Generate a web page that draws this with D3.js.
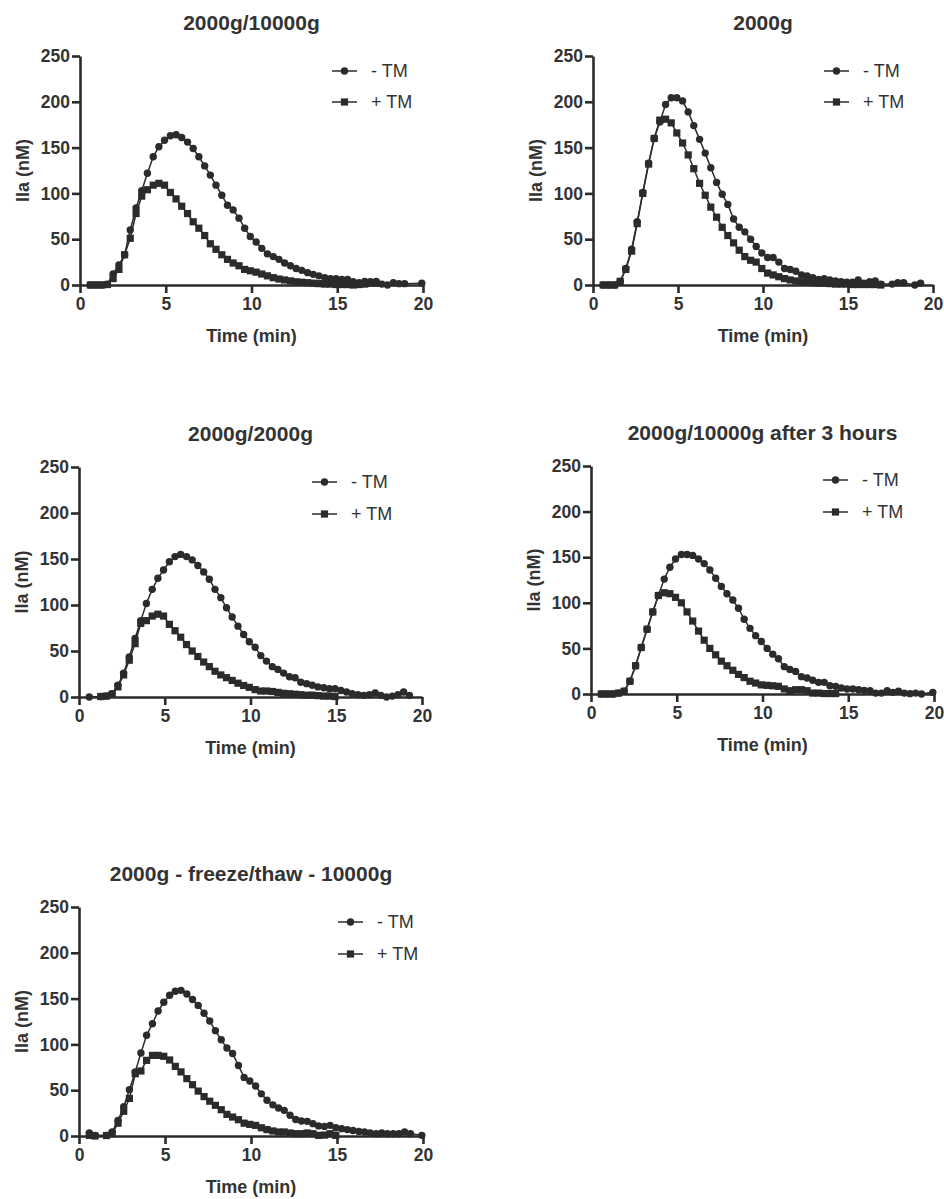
<!DOCTYPE html>
<html>
<head>
<meta charset="utf-8">
<script src="https://cdn.jsdelivr.net/npm/d3@7"></script>
<style>
  html, body { margin: 0; padding: 0; background: #ffffff; }
  svg { display: block; }
  text { font-family: "Liberation Sans", Arial, Helvetica, sans-serif; fill: #333333; }
</style>
</head>
<body>
<svg id="chart" width="944" height="1199"></svg>
<script>
// ---------------- DATA ----------------
const times = [0.6, 0.93, 1.27, 1.6, 1.93, 2.27, 2.6, 2.93, 3.27, 3.6,
  3.93, 4.27, 4.6, 4.93, 5.27, 5.6, 5.93, 6.27, 6.6, 6.93,
  7.27, 7.6, 7.93, 8.27, 8.6, 8.93, 9.27, 9.6, 9.93, 10.27,
  10.6, 10.93, 11.27, 11.6, 11.93, 12.27, 12.6, 12.93, 13.27, 13.6,
  13.93, 14.27, 14.6, 14.93, 15.27, 15.6, 15.93, 16.27, 16.6, 16.93,
  17.27, 17.6, 17.93, 18.27, 18.6, 18.93, 19.27, 19.6, 19.93];

const titles = ["2000g/10000g", "2000g", "2000g/2000g", "2000g/10000g after 3 hours", "2000g - freeze/thaw - 10000g"];
const seriesNames = ["- TM", "+ TM"];
const xTicks = [0, 5, 10, 15, 20];
const yTicks = [0, 50, 100, 150, 200, 250];
const xLabel = "Time (min)";
const yLabel = "IIa (nM)";

// Panel 1: 2000g/10000g
const p1Minus = [0,0,0,1,12,22,33,60,84,103,
  122,140,151,158,163,164,161,156,149,140,
  130,120,109,98,87,82,73,62,53,47,
  40,34,31,28,24,21,18,16,13.5,11.6,
  10,8,7,7,6,6,3.5,2.5,4,3.5,
  4,1,0,2.5,1.5,1.5,null,null,2];
const p1Plus = [0,0,0,0.5,7,17,33,51,78,97,
  104,109,111,109,101,94,86,78,69,62,
  54,45,39,33,28,24,21,17,15.5,14,
  12,10,8,6.5,5.5,4.5,3.5,3,2.5,2,
  1.5,1,1,0.5,0.5,0.5,0,0.5,1,2,
  2,null,null,null,null,null,null,null,null];

// Panel 2: 2000g
const p2Minus = [0,0,0,4,18,39,69,101,133,160,
  178,197,204.5,204.5,201,189,174,159,144,128,
  112,99,88,72,63,58,50,42,35,30,
  30,25,18,17,15,11,10,8,6,7,
  5.5,4.4,3.6,3,3,5.5,2,3.6,4.4,1,
  null,1,2.5,2.5,null,0,2,null,null];
const p2Plus = [0,0,0,4,17,37,67,100,132,160,
  180,181,177,166,155,142,127,111,98,85,
  74,63,54,46,38,31,27,25,18,13,
  11,9,7,5.5,4.4,3.5,3,2.5,2,2,
  1.5,1,1,1,0.5,0.5,0.5,0.5,0.5,0,
  null,null,null,null,null,null,null,null,null];

// Panel 3: 2000g/2000g
const p3Minus = [0,null,0.5,1,3.6,12.7,26,43.6,63.6,83,
  101.7,117,129,138,147,152.6,155,152.6,149,143,
  136,128,117,108,97,87,77,68,60,54,
  45,39,33,30,26,22,21,16,14.5,12.7,
  11,10,9,9,7,5.5,3.6,2.5,1.8,2.5,
  4.4,1.8,0,1,2.5,5.5,1.8,null,null];
const p3Plus = [null,null,0.5,1,3,11,24,40,58,80,
  83,88,90,88,79,72,65,57,50,44,
  38,33,28,24,21,18,15,12.5,10.5,8,
  6.5,6.5,6,5,4,3.5,3,2.5,2,2,
  1.5,1,1,0.5,null,null,null,null,null,null,
  null,null,null,null,null,null,null,null,null];

// Panel 4: 2000g/10000g after 3 hours
const p4Minus = [0,0,0,1,3,14,31,51,71,90,
  108,126,139,148,153,153,152,148,143,136,
  127,118,110,103,94,82,72,64,57.6,50,
  43.7,38.6,30,27,24.8,19,17.5,15,12.8,12.8,
  9,8.4,6.6,5.5,5.5,4.7,4,3.6,1,1,
  3.6,1.8,3,1,0.4,1,0,null,1.8];
const p4Plus = [0,0,0,1,3,14,31,51,71,90,
  108,111,110,106,100,90,80,69,59,50,
  43,36,31,26,21.5,18,14,12,10,9.5,
  9,8.4,5.5,3.6,4.7,4.7,3.6,1,1,0.5,
  0.5,0.5,null,null,null,null,null,null,null,null,
  null,null,null,null,null,null,null,null,null];

// Panel 5: 2000g - freeze/thaw - 10000g
const p5Minus = [3.3,0.7,null,0.7,4.4,17,32,50.6,70,90.6,
  110,122.6,136.5,146,153.6,158,159,155,149,142.6,
  134,125.5,115,105,96,90,77,64,60,54.6,
  46,39,34,30.6,28,22.6,18,16.4,16,13.5,
  11,10.5,11.6,9,8,7,6,5,4.4,3.3,
  2.5,3.3,2.5,2.5,2.5,4.4,2.5,null,0.7];
const p5Plus = [0.7,0,null,0.5,2.5,14,27,41,68,71,
  82.6,88,88,87,83,76,70,62.6,56,49,
  43,38,33.5,28.7,23.6,20.7,17.8,14,12.7,11.6,
  9,7,5.5,4.4,4.4,3.3,2.5,2.5,3.3,2.5,
  0.7,1,2.5,0.7,null,null,null,null,null,null,
  null,null,null,null,null,null,null,null,null];

const minusSeries = [p1Minus, p2Minus, p3Minus, p4Minus, p5Minus];
const plusSeries = [p1Plus, p2Plus, p3Plus, p4Plus, p5Plus];

// ---------------- LAYOUT (pixel positions) ----------------
const layout = [
  {x0: 80,  x1: 423, y0: 285,  y1: 56,  legX: 332, legY: [71, 102]},
  {x0: 593, x1: 933, y0: 285,  y1: 56,  legX: 824, legY: [71, 102]},
  {x0: 79,  x1: 422, y0: 697,  y1: 467, legX: 312, legY: [482, 514]},
  {x0: 591, x1: 934, y0: 694,  y1: 466, legX: 823, legY: [480, 512]},
  {x0: 79,  x1: 423, y0: 1136, y1: 907, legX: 338, legY: [922, 954]}
];

const ink = "#2b2b2b";
const svg = d3.select("#chart");

function drawMarker(g, type, cx, cy) {
  if (type === "circle") {
    g.append("circle").attr("cx", cx).attr("cy", cy).attr("r", 3.7).attr("fill", ink);
  } else {
    g.append("rect").attr("x", cx - 3.6).attr("y", cy - 3.6).attr("width", 7.2).attr("height", 7.2).attr("fill", ink);
  }
}

layout.forEach((L, i) => {
  const g = svg.append("g");
  const x = d3.scaleLinear().domain([0, 20]).range([L.x0, L.x1]);
  const y = d3.scaleLinear().domain([0, 250]).range([L.y0, L.y1]);

  // Title
  g.append("text")
    .attr("x", (L.x0 + L.x1) / 2).attr("y", L.y1 - 26)
    .attr("text-anchor", "middle")
    .style("font-size", "21px").style("font-weight", "bold")
    .text(titles[i]);

  // Series
  const line = d3.line().x(d => x(d.t)).y(d => y(d.v));
  const sets = [
    {vals: minusSeries[i], type: "circle"},
    {vals: plusSeries[i], type: "square"}
  ];
  sets.forEach(s => {
    const pts = times.map((t, k) => ({t: t, v: s.vals[k]})).filter(d => d.v !== null);
    g.append("path").datum(pts)
      .attr("d", line).attr("fill", "none")
      .attr("stroke", ink).attr("stroke-width", 1.5);
    const mg = g.append("g");
    pts.forEach(d => drawMarker(mg, s.type, x(d.t), y(d.v)));
  });

  // Axes
  const xAxis = d3.axisBottom(x).tickValues(xTicks).tickSize(8).tickSizeOuter(0).tickPadding(5);
  const yAxis = d3.axisLeft(y).tickValues(yTicks).tickSize(8).tickSizeOuter(0).tickPadding(2);
  const gx = g.append("g").attr("transform", `translate(0,${L.y0})`).call(xAxis);
  const gy = g.append("g").attr("transform", `translate(${L.x0},0)`).call(yAxis);
  [gx, gy].forEach(a => {
    a.select(".domain").attr("stroke", ink).attr("stroke-width", 2.6);
    a.selectAll(".tick line").attr("stroke", ink).attr("stroke-width", 2.6);
    a.selectAll(".tick text")
      .style("font-family", '"Liberation Sans", Arial, sans-serif')
      .style("font-size", "17.5px").style("font-weight", "bold").attr("fill", "#333333");
  });

  // Axis titles
  g.append("text")
    .attr("x", (L.x0 + L.x1) / 2).attr("y", L.y0 + 57)
    .attr("text-anchor", "middle")
    .style("font-size", "18px").style("font-weight", "bold")
    .text(xLabel);
  g.append("text")
    .attr("transform", `translate(${L.x0 - 51},${(L.y0 + L.y1) / 2}) rotate(-90)`)
    .attr("text-anchor", "middle")
    .style("font-size", "18px").style("font-weight", "bold")
    .text(yLabel);

  // Legend
  ["circle", "square"].forEach((type, j) => {
    const ly = L.legY[j];
    g.append("line").attr("x1", L.legX).attr("x2", L.legX + 25)
      .attr("y1", ly).attr("y2", ly).attr("stroke", ink).attr("stroke-width", 1.5);
    drawMarker(g, type, L.legX + 12.5, ly);
    g.append("text").attr("x", L.legX + 39).attr("y", ly)
      .attr("dy", "0.35em")
      .style("font-size", "18px")
      .text(seriesNames[j]);
  });
});
</script>
</body>
</html>
